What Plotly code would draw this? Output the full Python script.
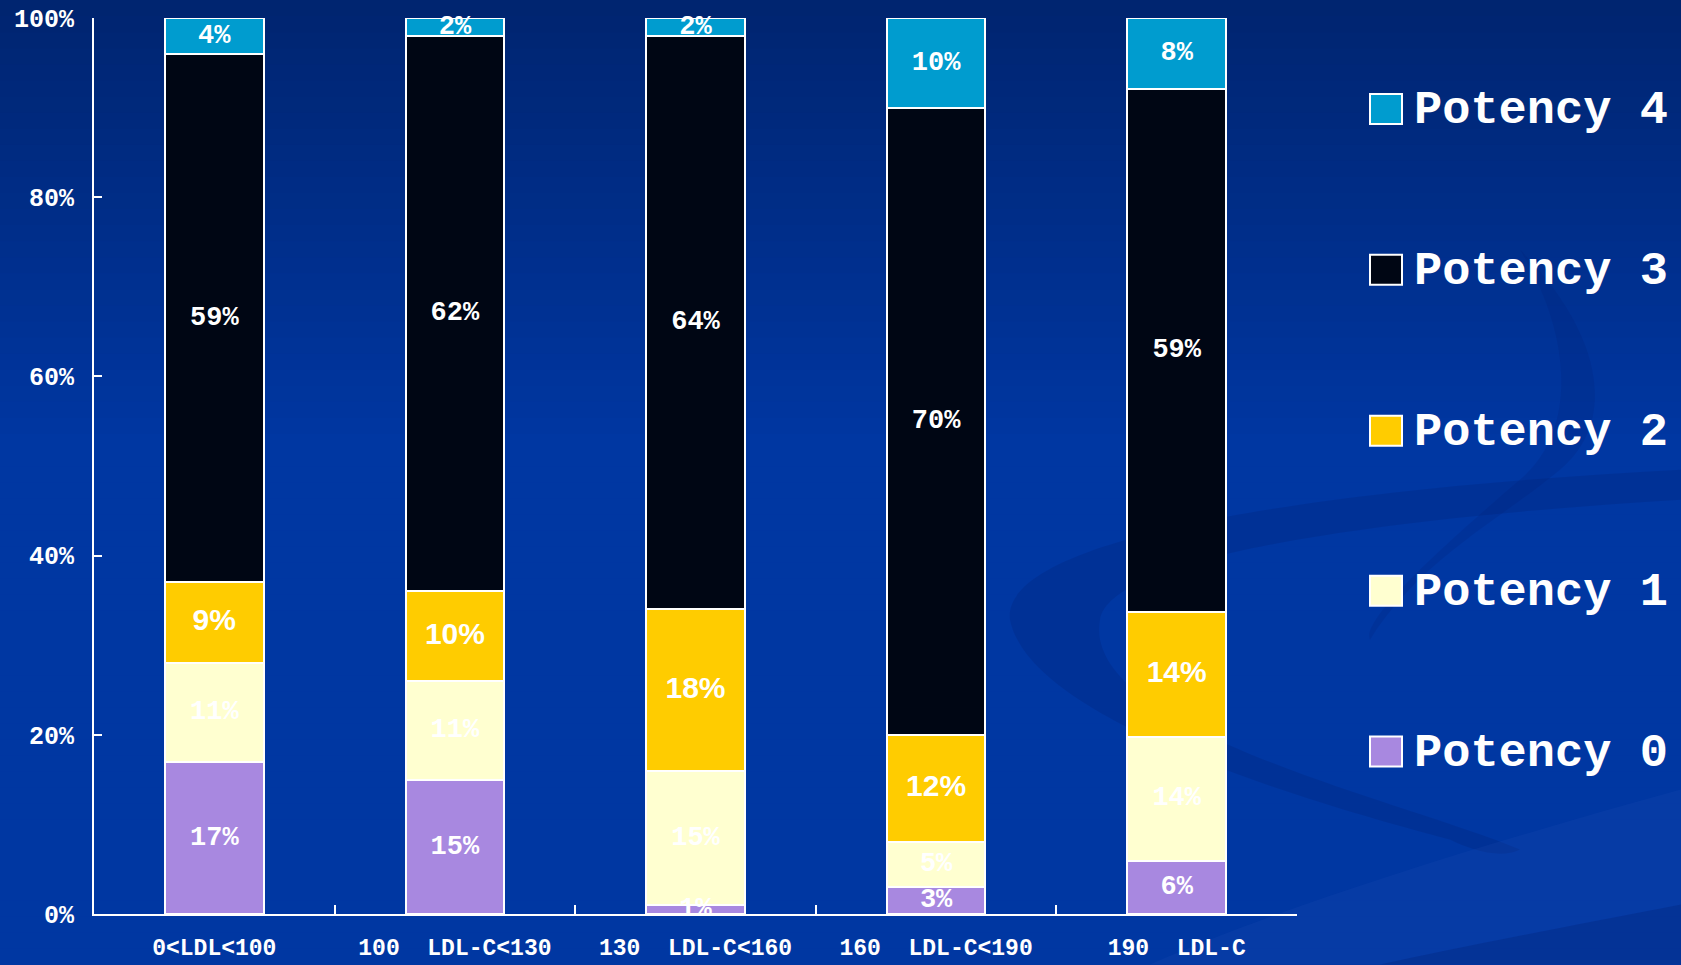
import plotly.graph_objects as go
import numpy as np

categories = ["0<LDL<100", "100\u00a0\u00a0LDL-C<130", "130\u00a0\u00a0LDL-C<160",
              "160\u00a0\u00a0LDL-C<190", "190\u00a0\u00a0LDL-C"]
series_names = ["Potency 0", "Potency 1", "Potency 2", "Potency 3", "Potency 4"]
potency0 = [17, 15, 1, 3, 6]
potency1 = [11, 11, 15, 5, 14]
potency2 = [9, 10, 18, 12, 14]
potency3 = [59, 62, 64, 70, 59]
potency4 = [4, 2, 2, 10, 8]
series_values = [potency0, potency1, potency2, potency3, potency4]
series_colors = ["#a888e0", "#ffffd0", "#ffcc00", "#000614", "#009ccf"]
y_ticks = [0, 20, 40, 60, 80, 100]
y_tick_labels = ["0%", "20%", "40%", "60%", "80%", "100%"]

MONO = "Liberation Mono, Courier New, monospace"
NARROW = "Liberation Sans Narrow, Arial Narrow, Arial, sans-serif"

fig = go.Figure()

# stacked bars, normalised to 100%
for name, vals, col in zip(series_names, series_values, series_colors):
    fig.add_trace(go.Bar(
        x=categories, y=vals, name=name, showlegend=False,
        marker=dict(color=col, line=dict(color="white", width=2)),
        width=0.41, hoverinfo="skip",
    ))

# value labels centred in each segment
arr = np.array(series_values, dtype=float)
totals = arr.sum(axis=0)
cum = np.cumsum(arr, axis=0)
for i, (name, vals) in enumerate(zip(series_names, series_values)):
    mid = (cum[i] - arr[i] / 2) / totals * 100
    if name == "Potency 2":
        font = dict(family=NARROW, size=30, color="white", weight="bold")
    else:
        font = dict(family=MONO, size=27, color="white", weight="bold")
    fig.add_trace(go.Scatter(
        x=categories, y=mid, mode="text", text=[f"{v}%" for v in vals],
        textfont=font, textposition="middle center", showlegend=False,
        hoverinfo="skip", cliponaxis=False,
    ))

# background gradient and swooshes
shapes = []
n = 60
top = np.array([0x00, 0x25, 0x70])
bot = np.array([0x00, 0x37, 0xa2])
L, R, T, B = 94, 384, 18, 50.5
W, H = 1681, 965
pw, ph = W - L - R, H - T - B
def px(xp):
    return (xp - L) / pw
def py(yp):
    return (H - B - yp) / ph
for k in range(n):
    t = min(1.0, (k + 0.5) / n * 2.2)
    c = top + (bot - top) * t
    shapes.append(dict(type="rect", xref="paper", yref="paper", layer="below",
                       x0=px(-2), x1=px(W + 2), y0=py(H * k / n - (2 if k == 0 else 0)),
                       y1=py(H * (k + 1) / n + 1),
                       fillcolor="rgb(%d,%d,%d)" % tuple(c.astype(int)), line_width=0))

def path(points):
    s = "M %f %f" % (px(points[0][0]), py(points[0][1]))
    for seg in points[1:]:
        s += " C " + " ".join("%f %f" % (px(a), py(b)) for a, b in seg)
    return s + " Z"

# dark ring band
shapes.append(dict(type="path", xref="paper", yref="paper", layer="below",
    path=path([(1681, 470), [(1300, 490), (1000, 540), (1010, 620)],
               [(1030, 720), (1300, 800), (1450, 840)],
               [(1470, 850), (1500, 860), (1520, 850)],
               [(1400, 800), (1080, 730), (1100, 620)],
               [(1110, 560), (1350, 520), (1681, 500)]]),
    fillcolor="rgba(0,30,110,0.22)", line_width=0))
# lighter sweep across the bottom right
shapes.append(dict(type="path", xref="paper", yref="paper", layer="below",
    path=path([(1681, 790), [(1500, 840), (1300, 900), (1150, 965)],
               [(1300, 965), (1500, 965), (1681, 965)],
               [(1681, 900), (1681, 850), (1681, 790)]]),
    fillcolor="rgba(40,90,190,0.15)", line_width=0))
shapes.append(dict(type="path", xref="paper", yref="paper", layer="below",
    path=path([(1681, 905), [(1550, 930), (1450, 950), (1380, 965)],
               [(1450, 965), (1600, 965), (1681, 965)],
               [(1681, 950), (1681, 930), (1681, 905)]]),
    fillcolor="rgba(0,25,100,0.22)", line_width=0))
# curve behind the legend
shapes.append(dict(type="path", xref="paper", yref="paper", layer="below",
    path=path([(1520, 250), [(1600, 330), (1620, 420), (1560, 470)],
               [(1500, 520), (1420, 560), (1370, 640)],
               [(1360, 620), (1450, 540), (1520, 480)],
               [(1580, 430), (1570, 330), (1520, 250)]]),
    fillcolor="rgba(0,30,110,0.15)", line_width=0))

# legend squares and labels
legend_y = [109, 270, 431, 591, 752]
for name, col, ly in zip(series_names[::-1], series_colors[::-1], legend_y):
    shapes.append(dict(type="rect", xref="paper", yref="paper",
                       x0=px(1370), x1=px(1402), y0=py(ly + 15), y1=py(ly - 15),
                       fillcolor=col, line=dict(color="white", width=2)))
    fig.add_annotation(xref="paper", yref="paper", x=px(1412), y=py(ly + 2),
                       xanchor="left", yanchor="middle", text=name, showarrow=False,
                       font=dict(family=MONO, size=47, color="white", weight="bold"))

fig.update_layout(
    width=W, height=H,
    margin=dict(l=L, r=R, t=T, b=B, pad=0, autoexpand=False),
    barmode="stack", barnorm="percent",
    paper_bgcolor="#00339a", plot_bgcolor="rgba(0,0,0,0)",
    shapes=shapes, showlegend=False,
    xaxis=dict(
        showline=True, linecolor="white", linewidth=2,
        ticks="inside", tickson="boundaries", ticklen=9, tickcolor="white", tickwidth=2,
        showgrid=False, zeroline=False, automargin=False,
        tickfont=dict(family=MONO, size=23, color="white", weight="bold"),
        ticklabelstandoff=11, range=[-0.5, 4.5],
    ),
    yaxis=dict(
        range=[0, 100], tickmode="array", tickvals=y_ticks, ticktext=y_tick_labels,
        showline=True, linecolor="white", linewidth=2,
        ticks="inside", ticklen=8, tickcolor="white", tickwidth=2,
        showgrid=False, zeroline=False, automargin=False,
        tickfont=dict(family=MONO, size=25, color="white", weight="bold"),
        ticklabelstandoff=13,
    ),
)

fig.write_html("out.html")
